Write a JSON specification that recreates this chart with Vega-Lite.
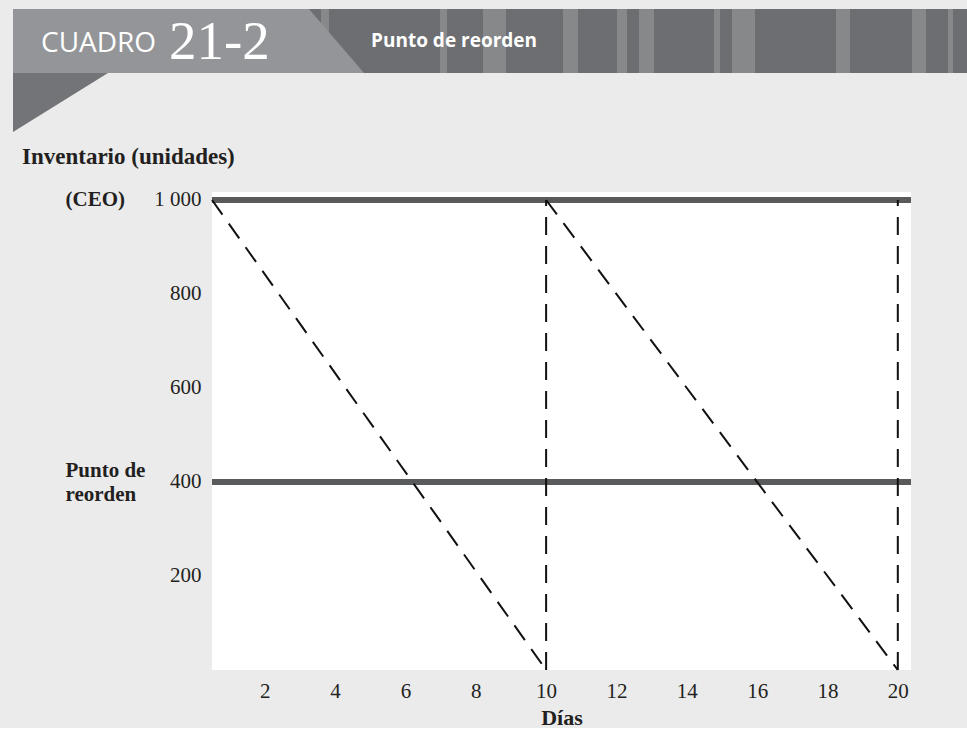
{
  "$schema": "https://vega.github.io/schema/vega-lite/v6.json",
  "background": "#ebebec",
  "padding": {"left": 12, "top": 9, "right": 0, "bottom": 0},
  "columns": 1,
  "spacing": 0,
  "config": {
    "axis": {"grid": false, "ticks": false, "domain": false, "labelColor": "#231f20", "titleColor": "#231f20", "labelFont": "Liberation Serif", "titleFont": "Liberation Serif", "labelFontSize": 21, "titleFontSize": 22}
  },
  "concat": [
    {
      "width": 756,
      "height": 136,
      "view": {"stroke": null, "fill": null},
      "layer": [
        {
          "data": {"values": [{"pieza": "banda", "x0": 0, "x1": 955, "y0": 0, "y1": 64}]},
          "mark": {"type": "rect", "color": "#6d6e71"},
          "encoding": {
            "x": {"field": "x0", "type": "quantitative", "scale": {"domain": [199, 955], "nice": false, "zero": false}, "axis": null},
            "x2": {"field": "x1"},
            "y": {"field": "y0", "type": "quantitative", "scale": {"domain": [0, 136], "reverse": true, "nice": false, "zero": false}, "axis": null},
            "y2": {"field": "y1"}
          }
        },
        {
          "data": {"values": [
            {"x0": 308, "x1": 316}, {"x0": 427, "x1": 434}, {"x0": 470, "x1": 493}, {"x0": 550, "x1": 565},
            {"x0": 604, "x1": 614}, {"x0": 626, "x1": 641}, {"x0": 701, "x1": 707}, {"x0": 719, "x1": 742},
            {"x0": 823, "x1": 837}, {"x0": 899, "x1": 913}, {"x0": 935, "x1": 940}
          ]},
          "mark": {"type": "rect", "color": "#87888a"},
          "encoding": {
            "x": {"field": "x0", "type": "quantitative"},
            "x2": {"field": "x1"},
            "y": {"datum": 0, "type": "quantitative"},
            "y2": {"datum": 64}
          }
        },
        {
          "data": {"values": [{"y": 0, "x": 296}, {"y": 64, "x": 351}]},
          "mark": {"type": "area", "orient": "horizontal", "color": "#939598", "opacity": 1},
          "encoding": {
            "y": {"field": "y", "type": "quantitative"},
            "x": {"field": "x", "type": "quantitative"},
            "x2": {"datum": 0}
          }
        },
        {
          "data": {"values": [{"y": 64, "x": 95}, {"y": 123, "x": 0}]},
          "mark": {"type": "area", "orient": "horizontal", "color": "#737477", "opacity": 1},
          "encoding": {
            "y": {"field": "y", "type": "quantitative"},
            "x": {"field": "x", "type": "quantitative"},
            "x2": {"datum": 0}
          }
        },
        {
          "data": {"values": [{"t": "CUADRO", "x": 28, "y": 43}]},
          "mark": {"type": "text", "align": "left", "baseline": "alphabetic", "font": "Open Sans", "fontSize": 28, "color": "white"},
          "encoding": {"x": {"field": "x", "type": "quantitative"}, "y": {"field": "y", "type": "quantitative"}, "text": {"field": "t"}}
        },
        {
          "data": {"values": [{"t": "21-2", "x": 156, "y": 50}]},
          "mark": {"type": "text", "align": "left", "baseline": "alphabetic", "font": "Liberation Serif", "fontSize": 55, "color": "white"},
          "encoding": {"x": {"field": "x", "type": "quantitative"}, "y": {"field": "y", "type": "quantitative"}, "text": {"field": "t"}}
        },
        {
          "data": {"values": [{"t": "Punto de reorden", "x": 358, "y": 38}]},
          "mark": {"type": "text", "align": "left", "baseline": "alphabetic", "font": "Open Sans", "fontWeight": "bold", "fontSize": 19, "color": "white"},
          "encoding": {"x": {"field": "x", "type": "quantitative"}, "y": {"field": "y", "type": "quantitative"}, "text": {"field": "t"}}
        }
      ]
    },
    {
      "width": 699,
      "height": 478,
      "view": {"fill": "white", "stroke": null},
      "title": {"text": "Inventario (unidades)", "anchor": "start", "frame": "bounds", "dx": -43, "offset": 20, "font": "Liberation Serif", "fontSize": 23, "fontWeight": "bold", "color": "#231f20"},
      "layer": [
        {
          "data": {"values": [{"nivel": 1000, "linea": "CEO"}, {"nivel": 400, "linea": "Punto de reorden"}]},
          "mark": {"type": "rule", "color": "#595a5c", "strokeWidth": 6},
          "encoding": {
            "y": {"field": "nivel", "type": "quantitative", "scale": {"domain": [0, 1017], "nice": false, "zero": false},
              "axis": {"orient": "left", "values": [200, 400, 600, 800, 1000], "labelExpr": "datum.value == 1000 ? '1 000' : datum.label", "labelPadding": 11, "minExtent": 62, "maxExtent": 62, "title": null, "labelOverlap": false}}
          }
        },
        {
          "data": {"values": [
            {"tramo": "A", "dia": 0.5, "inventario": 1000},
            {"tramo": "A", "dia": 10, "inventario": 0},
            {"tramo": "B", "dia": 10, "inventario": 1000},
            {"tramo": "B", "dia": 20, "inventario": 0},
            {"tramo": "C", "dia": 10, "inventario": 0},
            {"tramo": "C", "dia": 10, "inventario": 1000},
            {"tramo": "D", "dia": 20, "inventario": 0},
            {"tramo": "D", "dia": 20, "inventario": 1000}
          ]},
          "mark": {"type": "line", "color": "#111111", "strokeWidth": 2, "strokeDash": [18, 11]},
          "encoding": {
            "x": {"field": "dia", "type": "quantitative", "scale": {"domain": [0.5, 20.375], "nice": false, "zero": false},
              "axis": {"values": [2, 4, 6, 8, 10, 12, 14, 16, 18, 20], "labelPadding": 10, "labelFlush": false, "title": "Días", "titleFontWeight": "bold", "titlePadding": 6}},
            "y": {"field": "inventario", "type": "quantitative", "scale": {"domain": [0, 1017], "nice": false, "zero": false},
              "axis": {"orient": "left", "values": [1000, 400], "labelExpr": "datum.value == 1000 ? '(CEO)' : ['Punto de', 'reorden']", "labelFontWeight": "bold", "labelFontSize": 21, "labelAlign": "left", "labelPadding": 147, "labelLineHeight": 24, "labelOffset": {"condition": {"test": "datum.value == 400", "value": -11}, "value": 0}, "minExtent": 147, "maxExtent": 147, "title": null, "labelOverlap": false}},
            "detail": {"field": "tramo"}
          }
        }
      ],
      "resolve": {"scale": {"y": "independent"}, "axis": {"y": "independent"}}
    }
  ]
}
